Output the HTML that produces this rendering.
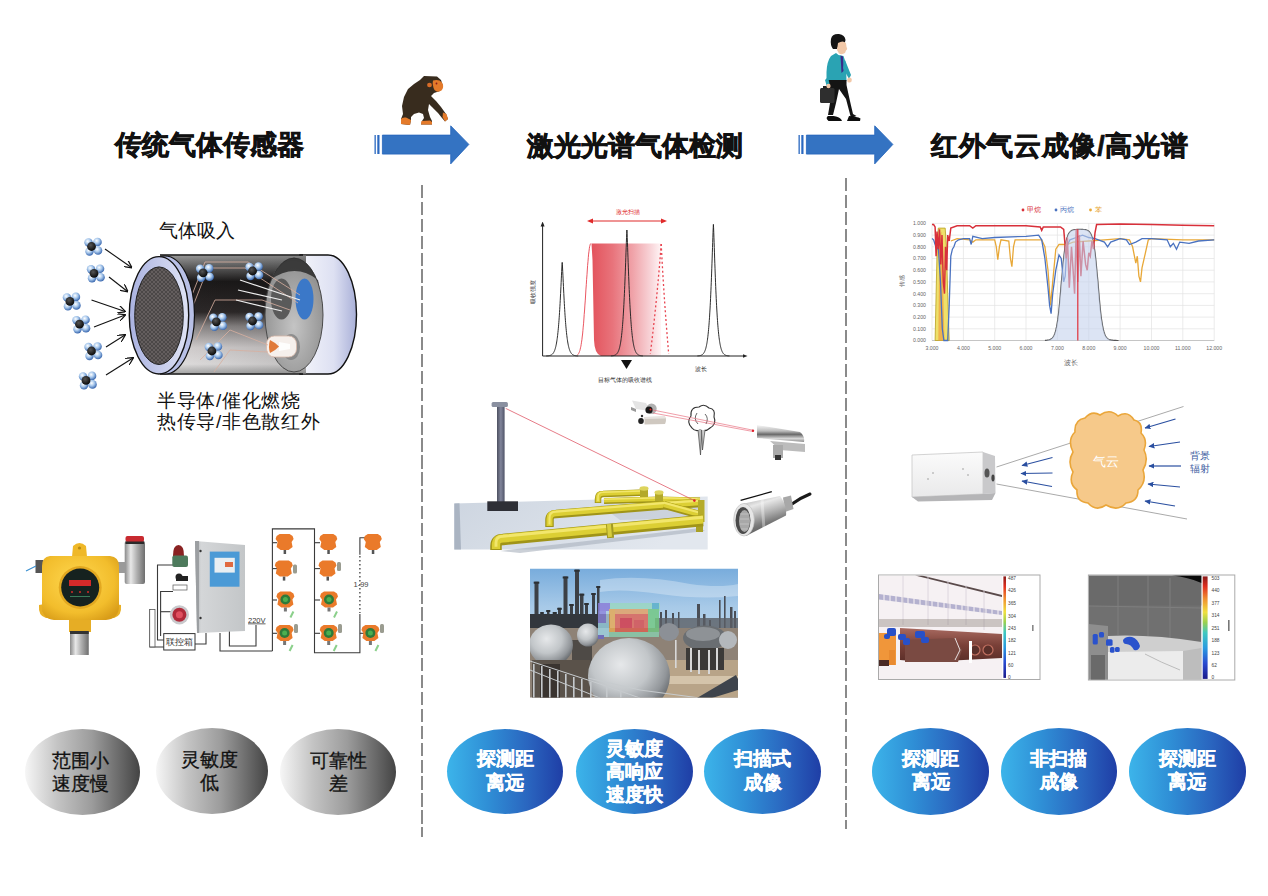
<!DOCTYPE html>
<html><head><meta charset="utf-8">
<style>
html,body{margin:0;padding:0;background:#fff;}
body{width:1268px;height:896px;position:relative;overflow:hidden;font-family:"Liberation Sans",sans-serif;}
.abs{position:absolute;}
.title{position:absolute;font-size:27px;font-weight:bold;color:#111;-webkit-text-stroke:0.7px #111;white-space:nowrap;line-height:27px;letter-spacing:0px;}
.dash{position:absolute;width:2px;background:repeating-linear-gradient(to bottom,#8a8a8a 0,#8a8a8a 13.3px,transparent 13.3px,transparent 16.9px);}
.ell{position:absolute;border-radius:50%;display:flex;align-items:center;justify-content:center;text-align:center;font-size:19px;line-height:23.3px;box-sizing:border-box;}
.g{-webkit-text-stroke:0.3px #111;background:linear-gradient(to right,#f6f6f6 0%,#c4c4c4 28%,#9c9c9c 58%,#6a6a6a 82%,#444 100%);color:#111;}
.b{padding-bottom:2px;-webkit-text-stroke:0.35px #fff;background:linear-gradient(to right,#3cb4ea 0%,#2f8fd6 35%,#2a65bf 70%,#1f3ea6 100%);color:#fff;font-weight:bold;}
</style></head>
<body>

<!-- ILLUSTRATIONS -->
<svg class="abs" style="left:0;top:0" width="1268" height="896" viewBox="0 0 1268 896">
<defs>
 <linearGradient id="interior" x1="0" y1="0" x2="0" y2="1">
  <stop offset="0" stop-color="#9a9a9a"/>
  <stop offset="0.08" stop-color="#6a6a6a"/>
  <stop offset="0.22" stop-color="#1c1a1a"/>
  <stop offset="0.48" stop-color="#2e2a2a"/>
  <stop offset="0.6" stop-color="#8a8686"/>
  <stop offset="0.78" stop-color="#d4d0d0"/>
  <stop offset="0.92" stop-color="#e2e0e0"/>
  <stop offset="1" stop-color="#a8a8a8"/>
 </linearGradient>
 <linearGradient id="interiorH" x1="0" y1="0" x2="1" y2="0">
  <stop offset="0" stop-color="#000" stop-opacity="0.0"/>
  <stop offset="1" stop-color="#000" stop-opacity="0.15"/>
 </linearGradient>
 <linearGradient id="cap" x1="0" y1="0" x2="1" y2="0">
  <stop offset="0" stop-color="#f4f5fb"/>
  <stop offset="0.6" stop-color="#dde0f2"/>
  <stop offset="1" stop-color="#a9b0d8"/>
 </linearGradient>
 <linearGradient id="ring" x1="0" y1="0" x2="1" y2="0">
  <stop offset="0" stop-color="#aab2e0"/>
  <stop offset="1" stop-color="#dfe3f5"/>
 </linearGradient>
 <radialGradient id="disc" cx="0.5" cy="0.6" r="0.6">
  <stop offset="0" stop-color="#c4c4c4"/>
  <stop offset="1" stop-color="#8e8e8e"/>
 </radialGradient>
 <pattern id="mesh" width="4" height="4" patternUnits="userSpaceOnUse">
  <rect width="4" height="4" fill="#4b4747"/>
  <path d="M0 0 L4 4 M4 0 L0 4" stroke="#6b6565" stroke-width="0.8"/>
 </pattern>
 <radialGradient id="molB" cx="0.4" cy="0.35" r="0.7">
  <stop offset="0" stop-color="#ffffff"/>
  <stop offset="0.45" stop-color="#a8c8ec"/>
  <stop offset="1" stop-color="#2a5aa6"/>
 </radialGradient>
 <radialGradient id="molK" cx="0.4" cy="0.35" r="0.7">
  <stop offset="0" stop-color="#555"/>
  <stop offset="1" stop-color="#050505"/>
 </radialGradient>
 <g id="mol">
  <circle cx="-4.5" cy="-4" r="4.2" fill="url(#molB)"/>
  <circle cx="4.5" cy="-4.5" r="4.3" fill="url(#molB)"/>
  <circle cx="5" cy="4" r="4.3" fill="url(#molB)"/>
  <circle cx="-3.5" cy="5" r="4.2" fill="url(#molB)"/>
  <circle cx="-1.5" cy="0" r="4.4" fill="url(#molK)"/>
 </g>

 <linearGradient id="steel" x1="0" y1="0" x2="1" y2="0">
  <stop offset="0" stop-color="#8a8a8a"/>
  <stop offset="0.3" stop-color="#e8e8e8"/>
  <stop offset="0.6" stop-color="#b0b0b0"/>
  <stop offset="1" stop-color="#6e6e6e"/>
 </linearGradient>
 <radialGradient id="yel" cx="0.45" cy="0.4" r="0.7">
  <stop offset="0" stop-color="#ffd850"/>
  <stop offset="0.7" stop-color="#f2bd2c"/>
  <stop offset="1" stop-color="#d89c18"/>
 </radialGradient>
 <linearGradient id="box" x1="0" y1="0" x2="1" y2="0">
  <stop offset="0" stop-color="#a9acae"/>
  <stop offset="0.12" stop-color="#d4d6d8"/>
  <stop offset="1" stop-color="#c3c6c8"/>
 </linearGradient>
 <g id="odet">
  <path d="M-8 -6 L-5 -8 L5 -8 L8 -6 L9 -3 L7 0 L8 5 L4 8 L-4 8 L-8 5 L-7 0 L-9 -3 Z" fill="#ea7a2a"/>
  <rect x="-1" y="8" width="2.5" height="4" fill="#555"/>
 </g>
 <g id="odetg">
  <path d="M-8 -6 L-5 -8 L5 -8 L8 -6 L9 -3 L7 0 L8 5 L4 8 L-4 8 L-8 5 L-7 0 L-9 -3 Z" fill="#ea7a2a"/>
  <circle cx="0" cy="0" r="5" fill="#2e7a3a"/>
  <circle cx="0" cy="0" r="2.5" fill="#4caf50"/>
  <rect x="-1.5" y="8" width="3" height="4" fill="#777"/>
  <path d="M8 12 L5 18" stroke="#8bd08b" stroke-width="2"/>
 </g>
 <g id="gsen"><rect x="0" y="-4" width="4" height="9" rx="1.5" fill="#9a9c90"/></g>

 <linearGradient id="redfill" x1="0" y1="0" x2="1" y2="0">
  <stop offset="0" stop-color="#e3535c"/>
  <stop offset="0.3" stop-color="#e8737b"/>
  <stop offset="0.6" stop-color="#f0a4aa"/>
  <stop offset="0.85" stop-color="#f8d4d8"/>
  <stop offset="1" stop-color="#fff4f5"/>
 </linearGradient>
 <marker id="ahk" viewBox="0 0 10 10" refX="5" refY="5" markerWidth="5" markerHeight="5" orient="auto">
  <path d="M0 1 L10 5 L0 9 Z" fill="#222"/>
 </marker>
 <marker id="ahr" viewBox="0 0 10 10" refX="5" refY="5" markerWidth="5" markerHeight="5" orient="auto-start-reverse">
  <path d="M0 1 L10 5 L0 9 Z" fill="#e02a2a"/>
 </marker>

 <linearGradient id="plat" x1="0" y1="0" x2="1" y2="0.3">
  <stop offset="0" stop-color="#cdd5e0"/>
  <stop offset="1" stop-color="#e2e7ee"/>
 </linearGradient>
 <linearGradient id="pipeY" x1="0" y1="0" x2="0" y2="1">
  <stop offset="0" stop-color="#f2ea80"/>
  <stop offset="0.4" stop-color="#d4ca3c"/>
  <stop offset="1" stop-color="#8f8a1e"/>
 </linearGradient>
 <linearGradient id="pole" x1="0" y1="0" x2="1" y2="0">
  <stop offset="0" stop-color="#4c5060"/>
  <stop offset="0.5" stop-color="#80849a"/>
  <stop offset="1" stop-color="#505468"/>
 </linearGradient>
 <linearGradient id="chrome" x1="0" y1="0" x2="0" y2="1">
  <stop offset="0" stop-color="#f8f8f8"/>
  <stop offset="0.35" stop-color="#bdbdbd"/>
  <stop offset="0.55" stop-color="#6a6a6a"/>
  <stop offset="0.8" stop-color="#d8d8d8"/>
  <stop offset="1" stop-color="#8a8a8a"/>
 </linearGradient>
 <linearGradient id="chromeV" x1="0" y1="0" x2="1" y2="0">
  <stop offset="0" stop-color="#e8e8e8"/>
  <stop offset="0.4" stop-color="#9a9a9a"/>
  <stop offset="0.7" stop-color="#c8c8c8"/>
  <stop offset="1" stop-color="#6a6a6a"/>
 </linearGradient>

 <linearGradient id="sky" x1="0" y1="0" x2="0" y2="1">
  <stop offset="0" stop-color="#78acdc"/>
  <stop offset="0.3" stop-color="#a8cae8"/>
  <stop offset="0.7" stop-color="#c8dcee"/>
  <stop offset="1" stop-color="#dce8f2"/>
 </linearGradient>
 <radialGradient id="sph" cx="0.4" cy="0.35" r="0.7">
  <stop offset="0" stop-color="#e6e8ea"/>
  <stop offset="0.5" stop-color="#c2c6c9"/>
  <stop offset="0.8" stop-color="#92969a"/>
  <stop offset="1" stop-color="#5e6266"/>
 </radialGradient>
 <linearGradient id="ground" x1="0" y1="0" x2="0" y2="1">
  <stop offset="0" stop-color="#b89a78"/>
  <stop offset="1" stop-color="#8a6a4a"/>
 </linearGradient>
 <clipPath id="photoClip"><rect x="530" y="568.5" width="208" height="129"/></clipPath>

 <marker id="ahb" viewBox="0 0 10 10" refX="9" refY="5" markerWidth="5" markerHeight="5" orient="auto-start-reverse">
  <path d="M10 5 L0 0.5 L0 9.5 Z" fill="#2a4fa0"/>
 </marker>
 <linearGradient id="jet" x1="0" y1="1" x2="0" y2="0">
  <stop offset="0" stop-color="#1a1a8a"/>
  <stop offset="0.15" stop-color="#2a4ad0"/>
  <stop offset="0.3" stop-color="#2a9ae0"/>
  <stop offset="0.45" stop-color="#40c8c0"/>
  <stop offset="0.55" stop-color="#9ad050"/>
  <stop offset="0.65" stop-color="#f0e040"/>
  <stop offset="0.78" stop-color="#f09030"/>
  <stop offset="0.9" stop-color="#e03020"/>
  <stop offset="1" stop-color="#8a1a1a"/>
 </linearGradient>
 <linearGradient id="camfront" x1="0" y1="0" x2="0" y2="1">
  <stop offset="0" stop-color="#fbfbfb"/>
  <stop offset="1" stop-color="#e9e9ea"/>
 </linearGradient>
 <linearGradient id="pipesR" x1="0" y1="0" x2="0" y2="1">
  <stop offset="0" stop-color="#a86a60"/>
  <stop offset="0.5" stop-color="#7a4038"/>
  <stop offset="1" stop-color="#5a2e28"/>
 </linearGradient>
 <clipPath id="th1"><rect x="879" y="575.5" width="123" height="103.5"/></clipPath>
 <clipPath id="th2"><rect x="1089" y="575.5" width="112.5" height="104"/></clipPath>
 <marker id="ah" viewBox="0 0 10 10" refX="9" refY="5" markerWidth="7" markerHeight="7" orient="auto">
  <path d="M0 0 L10 5 L0 10" fill="none" stroke="#111" stroke-width="1.6"/>
 </marker>
</defs>

<!-- ===== Sensor cylinder ===== -->
<g>
 <!-- outer shell right cap -->
 <path d="M300 255 L328 255 A28.5 59.5 0 0 1 328 374 L300 374 Z" fill="url(#cap)" stroke="#111" stroke-width="1.4"/>
 <!-- interior cutaway -->
 <rect x="160" y="255.5" width="146" height="118" fill="url(#interior)"/>
 <rect x="160" y="255.5" width="146" height="118" fill="url(#interiorH)"/>
 <line x1="160" y1="255" x2="303" y2="255" stroke="#111" stroke-width="1.4"/>
 <line x1="160" y1="374" x2="303" y2="374" stroke="#111" stroke-width="1.4"/>
 <!-- inner end disc -->
 <ellipse cx="294" cy="315" rx="29" ry="57" fill="url(#disc)" stroke="#4a4a4a" stroke-width="1"/>
 <path d="M266 300 A29 57 0 0 1 322 300 L318 280 Q295 262 270 280 Z" fill="#2c2c2c" opacity="0.85"/>
 <ellipse cx="281.5" cy="299" rx="10.5" ry="20.5" fill="#5a5a5a"/>
 <ellipse cx="304.5" cy="299" rx="9" ry="20.5" fill="#3b78c8"/>
 <ellipse cx="291" cy="347" rx="9" ry="13" fill="#7a7a7a" opacity="0.7"/>
 <rect x="266.5" y="336" width="30" height="21" rx="8" fill="#f6f0ec" stroke="#d8b8a8" stroke-width="0.8"/>
 <path d="M270 340 Q276 343 279 346.5 Q276 350 270 353 Q268 346.5 270 340 Z" fill="#e07a3a"/>
 <path d="M279 342 L290 344 L290 349 L279 351 Z" fill="#fff" opacity="0.9"/>
 <!-- wires -->
 <g stroke="#d8b0a0" stroke-width="0.9" fill="none" opacity="0.9">
  <path d="M190 300 L205 262 L248 262 L300 295"/>
  <path d="M193 306 L208 268 L245 268 L298 303"/>
  <path d="M196 340 L215 300 L262 300 L290 310"/>
  <path d="M200 360 L230 330 L268 345"/>
  <path d="M214 372 L230 350 L268 352"/>
 </g>
 <g stroke="#eee" stroke-width="1.2">
  <line x1="240" y1="280" x2="300" y2="300"/>
  <line x1="238" y1="290" x2="282" y2="300"/>
  <line x1="236" y1="300" x2="282" y2="311"/>
 </g>
 <!-- front ring -->
 <ellipse cx="165" cy="315" rx="29.5" ry="59" fill="#b8c0e6" stroke="#111" stroke-width="1.2"/>
 <ellipse cx="159" cy="315.3" rx="29.7" ry="58.7" fill="url(#ring)" stroke="#111" stroke-width="1.4"/>
 <ellipse cx="159" cy="315.7" rx="24.3" ry="48.8" fill="url(#mesh)" stroke="#222" stroke-width="1"/>
 <!-- molecules inside -->
 <use href="#mol" x="204.6" y="272.8"/>
 <use href="#mol" x="254" y="271"/>
 <use href="#mol" x="217.8" y="321.8"/>
 <use href="#mol" x="254" y="321"/>
 <use href="#mol" x="213.4" y="351"/>
 <!-- molecules outside -->
 <use href="#mol" x="93" y="246.5"/>
 <use href="#mol" x="95.5" y="273.3"/>
 <use href="#mol" x="71.4" y="301.4"/>
 <use href="#mol" x="81" y="324.2"/>
 <use href="#mol" x="93" y="351"/>
 <use href="#mol" x="87.5" y="380.4"/>
 <!-- arrows -->
 <g stroke="#111" stroke-width="1.1" marker-end="url(#ah)">
  <line x1="105" y1="249" x2="131.5" y2="267.5"/>
  <line x1="109" y1="277" x2="127.5" y2="291.5"/>
  <line x1="91.5" y1="300" x2="125" y2="311.5"/>
  <line x1="94" y1="327" x2="125" y2="315"/>
  <line x1="106" y1="347" x2="125" y2="335"/>
  <line x1="106" y1="375" x2="133" y2="358"/>
 </g>
</g>

<!-- ===== Gas detector devices ===== -->
<g>
 <!-- right stainless cylinder -->
 <rect x="124.7" y="541" width="20.3" height="43" rx="2" fill="url(#steel)"/>
 <rect x="125.5" y="536" width="18.5" height="6" rx="2" fill="#c82a30"/>
 <rect x="125.5" y="541.5" width="18.5" height="2.5" fill="#2a2a2a"/>
 <rect x="118" y="562" width="8" height="11" fill="#9a9a9a"/>
 <!-- left nub + cable -->
 <rect x="35.5" y="560" width="8" height="13" fill="#555"/>
 <path d="M36 566 L26 571" stroke="#3a8fd0" stroke-width="1.2"/>
 <!-- yellow body -->
 <rect x="69" y="616" width="22" height="16" fill="#e6ad25"/>
 <path d="M72 557 L73 546 Q79.5 540 86 546 L87 557 Z" fill="#efb828"/>
 <circle cx="79.5" cy="548" r="1.6" fill="#b88a10"/>
 <path d="M39 605 Q38 616 46 618 L56 618 L56 602 Z" fill="#e9b026"/>
 <path d="M121 605 Q122 616 114 618 L104 618 L104 602 Z" fill="#e9b026"/>
 <circle cx="44.5" cy="611" r="1.8" fill="#b88a10"/>
 <circle cx="115.5" cy="611" r="1.8" fill="#b88a10"/>
 <path d="M50 556 L110 556 Q119 557 119 566 L119 606 Q119 619 106 620 L54 620 Q42 619 42 606 L42 566 Q42 557 50 556 Z" fill="url(#yel)"/>
 <circle cx="80.2" cy="587.5" r="21.5" fill="#e2a820"/>
 <circle cx="80.2" cy="587.5" r="19" fill="#16221f"/>
 <rect x="69" y="580" width="22" height="6" fill="#d42a2a"/>
 <g fill="#d42a2a"><circle cx="72" cy="592" r="1"/><circle cx="80" cy="592" r="1"/><circle cx="88" cy="592" r="1"/></g>
 <rect x="70" y="596" width="20" height="1" fill="#3a7a5a"/>
 <!-- bottom sensor -->
 <rect x="70" y="631" width="18.75" height="24" fill="url(#steel)"/>
 <rect x="70" y="631" width="18.75" height="3" fill="#333"/>
</g>
<g>
 <!-- wires -->
 <g stroke="#3a3a3a" stroke-width="1.1" fill="none">
  <path d="M175 565 L157.5 565 L157.5 640 L164 640"/>
  <path d="M173 591.5 L160.6 591.5 L160.6 636"/>
  <path d="M170.8 611.7 L160.6 611.7"/>
  <path d="M150 609 L150 647 L164 647"/>
  <path d="M195 644 L206 644 L206 633"/>
  <path d="M220 633 L220 651 L272.4 651"/>
  <path d="M229.4 631 L229.4 646 L256 646 L256 625"/>
  <path d="M272.4 651 L272.4 528.9 L314.5 528.9 L314.5 652.8 L359.9 652.8 L359.9 614"/>
  <path d="M359.9 554.8 L359.9 537.8 L366 537.8"/>
 </g>
 <path d="M359.9 556 L359.9 613" stroke="#3a3a3a" stroke-width="1.3" stroke-dasharray="1.4 2.6"/>
 <g stroke="#3a3a3a" stroke-width="1.1">
  <line x1="272.4" y1="542.7" x2="277" y2="542.7"/><line x1="272.4" y1="568.6" x2="277" y2="568.6"/>
  <line x1="272.4" y1="600" x2="277" y2="600"/><line x1="272.4" y1="633.3" x2="277" y2="633.3"/>
  <line x1="314.5" y1="542.7" x2="320" y2="542.7"/><line x1="314.5" y1="568.6" x2="320" y2="568.6"/>
  <line x1="314.5" y1="600" x2="320" y2="600"/><line x1="314.5" y1="633.3" x2="320" y2="633.3"/>
  <line x1="359.9" y1="633.3" x2="364" y2="633.3"/>
 </g>
 <!-- strip -->
 <rect x="149.7" y="609.4" width="5.3" height="37.5" fill="#fff" stroke="#555" stroke-width="0.8"/>
 <!-- alarm light -->
 <path d="M173 556 Q173 545 178.5 545 Q184 545 184 556 Z" fill="#8a2222"/>
 <rect x="172.3" y="555.5" width="15.7" height="11.5" rx="2" fill="#4d7a5c"/>
 <!-- valve -->
 <path d="M176 576 L188 576 L188 581 L176 581 Z" fill="#222"/><circle cx="179" cy="577" r="3.5" fill="#222"/>
 <rect x="173" y="585" width="14" height="5" fill="none" stroke="#555" stroke-width="0.7"/>
 <!-- fan -->
 <circle cx="179.4" cy="614.8" r="9.6" fill="#c9c9cc"/>
 <circle cx="179.4" cy="614.8" r="7" fill="#b02a3a"/>
 <circle cx="179.4" cy="614.8" r="3.5" fill="#e05060"/>
 <!-- controller box -->
 <path d="M195 541 L245 545 L245 631 L197 633 Z" fill="url(#box)"/>
 <path d="M195 541 L199 541 L199 633 L197 633 Z" fill="#9c9fa2"/>
 <rect x="209.8" y="551.6" width="29.7" height="35.1" fill="#4b9ad6"/>
 <rect x="214.5" y="557.8" width="20.3" height="14.8" fill="#e8eef2"/>
 <rect x="225" y="562" width="8" height="5" fill="#e06a40"/>
 <circle cx="200.5" cy="551" r="1.2" fill="#333"/><circle cx="200.5" cy="618" r="1.2" fill="#333"/>
 <!-- linkage box -->
 <rect x="163.75" y="633.6" width="31.25" height="16.4" fill="#fff" stroke="#333" stroke-width="1"/>
 <text x="179.4" y="645" font-size="9" text-anchor="middle" fill="#333">联控箱</text>
 <text x="248" y="622.5" font-size="7.5" fill="#333" text-decoration="underline">220V</text>
 <text x="353.5" y="587.3" font-size="7.5" fill="#444">1-99</text>
 <!-- detectors -->
 <use href="#odet" x="284.6" y="542"/><use href="#odet" x="328.3" y="542"/><use href="#odet" x="372.8" y="542"/>
 <use href="#odet" x="283.8" y="568.6"/><use href="#gsen" x="293" y="568.6"/>
 <use href="#odet" x="327.5" y="568.6"/><use href="#gsen" x="337" y="566"/>
 <use href="#odetg" x="285.4" y="599.5"/><use href="#odetg" x="329" y="599.5"/>
 <use href="#odetg" x="284.6" y="633"/><use href="#gsen" x="294" y="628"/>
 <use href="#odetg" x="328.7" y="633"/><use href="#gsen" x="338" y="628"/>
 <use href="#odetg" x="370.4" y="633"/><use href="#gsen" x="380" y="628"/>
</g>

<!-- ===== Laser spectrum chart ===== -->
<g>
 <path d="M591.5,243.5 L661,243.5 L661,356 L601,356 Q594.5,354 594,340 L592.5,260 Z" fill="url(#redfill)"/>
 <path d="M577.5,354.9 L577.8,354.5 L578.2,354.1 L578.5,353.7 L578.9,353.1 L579.2,352.3 L579.5,351.5 L579.9,350.5 L580.2,349.2 L580.5,347.8 L580.9,346.2 L581.2,344.3 L581.5,342.2 L581.9,339.8 L582.2,337.0 L582.6,334.0 L582.9,330.7 L583.2,327.1 L583.6,323.2 L583.9,319.0 L584.2,314.6 L584.6,310.0 L584.9,305.1 L585.3,300.1 L585.6,295.0 L585.9,289.9 L586.3,284.7 L586.6,279.6 L587.0,274.7 L587.3,270.0 L587.6,265.5 L588.0,261.3 L588.3,257.5 L588.6,254.1 L589.0,251.2 L589.3,248.7 L589.6,246.7 L590.0,245.2 L590.3,244.2 L590.7,243.7 L591.0,243.5" fill="none" stroke="#e8434f" stroke-width="0.9"/>
 <path d="M661.2,244 Q657,300 650.3,354" fill="none" stroke="#e84450" stroke-width="1.3" stroke-dasharray="2 2.4"/>
 <path d="M661.2,244 Q664,300 668.7,354" fill="none" stroke="#e84450" stroke-width="1.3" stroke-dasharray="2 2.4"/>
 <path d="M546.20,355.93 L546.38,355.92 L546.56,355.91 L546.73,355.91 L546.91,355.90 L547.09,355.88 L547.27,355.87 L547.44,355.86 L547.62,355.85 L547.80,355.83 L547.98,355.81 L548.16,355.79 L548.33,355.77 L548.51,355.75 L548.69,355.72 L548.87,355.70 L549.04,355.67 L549.22,355.63 L549.40,355.60 L549.58,355.56 L549.76,355.51 L549.93,355.46 L550.11,355.41 L550.29,355.35 L550.47,355.29 L550.64,355.22 L550.82,355.15 L551.00,355.07 L551.18,354.98 L551.36,354.88 L551.53,354.77 L551.71,354.66 L551.89,354.53 L552.07,354.39 L552.24,354.24 L552.42,354.08 L552.60,353.90 L552.78,353.71 L552.96,353.50 L553.13,353.28 L553.31,353.03 L553.49,352.76 L553.67,352.47 L553.84,352.16 L554.02,351.82 L554.20,351.45 L554.38,351.06 L554.56,350.63 L554.73,350.16 L554.91,349.66 L555.09,349.12 L555.27,348.54 L555.44,347.91 L555.62,347.24 L555.80,346.51 L555.98,345.73 L556.16,344.89 L556.33,343.98 L556.51,343.02 L556.69,341.98 L556.87,340.87 L557.04,339.68 L557.22,338.41 L557.40,337.05 L557.58,335.61 L557.76,334.06 L557.93,332.42 L558.11,330.68 L558.29,328.82 L558.47,326.86 L558.64,324.77 L558.82,322.57 L559.00,320.24 L559.18,317.79 L559.36,315.21 L559.53,312.50 L559.71,309.65 L559.89,306.68 L560.07,303.58 L560.24,300.35 L560.42,297.00 L560.60,293.54 L560.78,289.99 L560.96,286.35 L561.13,282.65 L561.31,278.91 L561.49,275.18 L561.67,271.52 L561.84,268.00 L562.02,264.80 L562.20,262.40 L562.38,264.80 L562.56,268.00 L562.73,271.52 L562.91,275.18 L563.09,278.91 L563.27,282.65 L563.44,286.35 L563.62,289.99 L563.80,293.54 L563.98,297.00 L564.16,300.35 L564.33,303.58 L564.51,306.68 L564.69,309.65 L564.87,312.50 L565.04,315.21 L565.22,317.79 L565.40,320.24 L565.58,322.57 L565.76,324.77 L565.93,326.86 L566.11,328.82 L566.29,330.68 L566.47,332.42 L566.64,334.06 L566.82,335.61 L567.00,337.05 L567.18,338.41 L567.36,339.68 L567.53,340.87 L567.71,341.98 L567.89,343.02 L568.07,343.98 L568.24,344.89 L568.42,345.73 L568.60,346.51 L568.78,347.24 L568.96,347.91 L569.13,348.54 L569.31,349.12 L569.49,349.66 L569.67,350.16 L569.84,350.63 L570.02,351.06 L570.20,351.45 L570.38,351.82 L570.56,352.16 L570.73,352.47 L570.91,352.76 L571.09,353.03 L571.27,353.28 L571.44,353.50 L571.62,353.71 L571.80,353.90 L571.98,354.08 L572.16,354.24 L572.33,354.39 L572.51,354.53 L572.69,354.66 L572.87,354.77 L573.04,354.88 L573.22,354.98 L573.40,355.07 L573.58,355.15 L573.76,355.22 L573.93,355.29 L574.11,355.35 L574.29,355.41 L574.47,355.46 L574.64,355.51 L574.82,355.56 L575.00,355.60 L575.18,355.63 L575.36,355.67 L575.53,355.70 L575.71,355.72 L575.89,355.75 L576.07,355.77 L576.24,355.79 L576.42,355.81 L576.60,355.83 L576.78,355.85 L576.96,355.86 L577.13,355.87 L577.31,355.88 L577.49,355.90 L577.67,355.91 L577.84,355.91 L578.02,355.92 L578.20,355.93" fill="none" stroke="#222" stroke-width="0.95"/>
 <path d="M610.90,355.91 L611.08,355.90 L611.26,355.88 L611.43,355.87 L611.61,355.86 L611.79,355.84 L611.97,355.83 L612.14,355.81 L612.32,355.79 L612.50,355.77 L612.68,355.75 L612.86,355.72 L613.03,355.69 L613.21,355.66 L613.39,355.63 L613.57,355.59 L613.74,355.55 L613.92,355.50 L614.10,355.46 L614.28,355.40 L614.46,355.34 L614.63,355.28 L614.81,355.21 L614.99,355.13 L615.17,355.05 L615.34,354.95 L615.52,354.85 L615.70,354.74 L615.88,354.62 L616.06,354.49 L616.23,354.35 L616.41,354.19 L616.59,354.02 L616.77,353.84 L616.94,353.64 L617.12,353.42 L617.30,353.18 L617.48,352.92 L617.66,352.64 L617.83,352.33 L618.01,352.00 L618.19,351.64 L618.37,351.25 L618.54,350.83 L618.72,350.38 L618.90,349.88 L619.08,349.35 L619.26,348.77 L619.43,348.14 L619.61,347.47 L619.79,346.74 L619.97,345.96 L620.14,345.11 L620.32,344.20 L620.50,343.22 L620.68,342.17 L620.86,341.04 L621.03,339.82 L621.21,338.52 L621.39,337.13 L621.57,335.63 L621.74,334.03 L621.92,332.32 L622.10,330.49 L622.28,328.55 L622.46,326.47 L622.63,324.26 L622.81,321.91 L622.99,319.41 L623.17,316.77 L623.34,313.96 L623.52,311.00 L623.70,307.86 L623.88,304.56 L624.06,301.09 L624.23,297.44 L624.41,293.61 L624.59,289.61 L624.77,285.43 L624.94,281.09 L625.12,276.58 L625.30,271.93 L625.48,267.14 L625.66,262.24 L625.83,257.25 L626.01,252.22 L626.19,247.21 L626.37,242.27 L626.54,237.54 L626.72,233.23 L626.90,230.00 L627.08,233.23 L627.26,237.54 L627.43,242.27 L627.61,247.21 L627.79,252.22 L627.97,257.25 L628.14,262.24 L628.32,267.14 L628.50,271.93 L628.68,276.58 L628.86,281.09 L629.03,285.43 L629.21,289.61 L629.39,293.61 L629.57,297.44 L629.74,301.09 L629.92,304.56 L630.10,307.86 L630.28,311.00 L630.46,313.96 L630.63,316.77 L630.81,319.41 L630.99,321.91 L631.17,324.26 L631.34,326.47 L631.52,328.55 L631.70,330.49 L631.88,332.32 L632.06,334.03 L632.23,335.63 L632.41,337.13 L632.59,338.52 L632.77,339.82 L632.94,341.04 L633.12,342.17 L633.30,343.22 L633.48,344.20 L633.66,345.11 L633.83,345.96 L634.01,346.74 L634.19,347.47 L634.37,348.14 L634.54,348.77 L634.72,349.35 L634.90,349.88 L635.08,350.38 L635.26,350.83 L635.43,351.25 L635.61,351.64 L635.79,352.00 L635.97,352.33 L636.14,352.64 L636.32,352.92 L636.50,353.18 L636.68,353.42 L636.86,353.64 L637.03,353.84 L637.21,354.02 L637.39,354.19 L637.57,354.35 L637.74,354.49 L637.92,354.62 L638.10,354.74 L638.28,354.85 L638.46,354.95 L638.63,355.05 L638.81,355.13 L638.99,355.21 L639.17,355.28 L639.34,355.34 L639.52,355.40 L639.70,355.46 L639.88,355.50 L640.06,355.55 L640.23,355.59 L640.41,355.63 L640.59,355.66 L640.77,355.69 L640.94,355.72 L641.12,355.75 L641.30,355.77 L641.48,355.79 L641.66,355.81 L641.83,355.83 L642.01,355.84 L642.19,355.86 L642.37,355.87 L642.54,355.88 L642.72,355.90 L642.90,355.91" fill="none" stroke="#222" stroke-width="0.95"/>
 <path d="M697.40,355.90 L697.58,355.89 L697.76,355.88 L697.93,355.87 L698.11,355.85 L698.29,355.84 L698.47,355.82 L698.64,355.80 L698.82,355.78 L699.00,355.76 L699.18,355.74 L699.36,355.71 L699.53,355.68 L699.71,355.65 L699.89,355.61 L700.07,355.57 L700.24,355.53 L700.42,355.48 L700.60,355.43 L700.78,355.37 L700.96,355.31 L701.13,355.25 L701.31,355.17 L701.49,355.09 L701.67,355.00 L701.84,354.91 L702.02,354.80 L702.20,354.69 L702.38,354.56 L702.56,354.42 L702.73,354.27 L702.91,354.11 L703.09,353.93 L703.27,353.74 L703.44,353.53 L703.62,353.30 L703.80,353.05 L703.98,352.78 L704.16,352.49 L704.33,352.17 L704.51,351.83 L704.69,351.45 L704.87,351.04 L705.04,350.60 L705.22,350.13 L705.40,349.61 L705.58,349.05 L705.76,348.45 L705.93,347.79 L706.11,347.09 L706.29,346.33 L706.47,345.51 L706.64,344.63 L706.82,343.68 L707.00,342.66 L707.18,341.56 L707.36,340.37 L707.53,339.11 L707.71,337.75 L707.89,336.29 L708.07,334.73 L708.24,333.05 L708.42,331.27 L708.60,329.36 L708.78,327.33 L708.96,325.16 L709.13,322.85 L709.31,320.39 L709.49,317.79 L709.67,315.02 L709.84,312.09 L710.02,309.00 L710.20,305.73 L710.38,302.28 L710.56,298.65 L710.73,294.83 L710.91,290.84 L711.09,286.65 L711.27,282.29 L711.44,277.76 L711.62,273.05 L711.80,268.19 L711.98,263.19 L712.16,258.07 L712.33,252.86 L712.51,247.61 L712.69,242.37 L712.87,237.22 L713.04,232.28 L713.22,227.77 L713.40,224.40 L713.58,227.77 L713.76,232.28 L713.93,237.22 L714.11,242.37 L714.29,247.61 L714.47,252.86 L714.64,258.07 L714.82,263.19 L715.00,268.19 L715.18,273.05 L715.36,277.76 L715.53,282.29 L715.71,286.65 L715.89,290.84 L716.07,294.83 L716.24,298.65 L716.42,302.28 L716.60,305.73 L716.78,309.00 L716.96,312.09 L717.13,315.02 L717.31,317.79 L717.49,320.39 L717.67,322.85 L717.84,325.16 L718.02,327.33 L718.20,329.36 L718.38,331.27 L718.56,333.05 L718.73,334.73 L718.91,336.29 L719.09,337.75 L719.27,339.11 L719.44,340.37 L719.62,341.56 L719.80,342.66 L719.98,343.68 L720.16,344.63 L720.33,345.51 L720.51,346.33 L720.69,347.09 L720.87,347.79 L721.04,348.45 L721.22,349.05 L721.40,349.61 L721.58,350.13 L721.76,350.60 L721.93,351.04 L722.11,351.45 L722.29,351.83 L722.47,352.17 L722.64,352.49 L722.82,352.78 L723.00,353.05 L723.18,353.30 L723.36,353.53 L723.53,353.74 L723.71,353.93 L723.89,354.11 L724.07,354.27 L724.24,354.42 L724.42,354.56 L724.60,354.69 L724.78,354.80 L724.96,354.91 L725.13,355.00 L725.31,355.09 L725.49,355.17 L725.67,355.25 L725.84,355.31 L726.02,355.37 L726.20,355.43 L726.38,355.48 L726.56,355.53 L726.73,355.57 L726.91,355.61 L727.09,355.65 L727.27,355.68 L727.44,355.71 L727.62,355.74 L727.80,355.76 L727.98,355.78 L728.16,355.80 L728.33,355.82 L728.51,355.84 L728.69,355.85 L728.87,355.87 L729.04,355.88 L729.22,355.89 L729.40,355.90" fill="none" stroke="#222" stroke-width="0.95"/>
 <line x1="542.6" y1="356" x2="542.6" y2="224" stroke="#222" stroke-width="1" marker-end="url(#ahk)"/>
 <line x1="542.6" y1="356" x2="745" y2="356" stroke="#222" stroke-width="1" marker-end="url(#ahk)"/>
 <line x1="590" y1="221" x2="664" y2="221" stroke="#e02a2a" stroke-width="1.2" marker-start="url(#ahr)" marker-end="url(#ahr)"/>
 <path d="M621 360 L632 360 L626.5 369 Z" fill="#111"/>
 <text x="627.5" y="214" font-size="6.2" text-anchor="middle" fill="#e02a2a">激光扫描</text>
 <text x="625" y="381.5" font-size="6" text-anchor="middle" fill="#333">目标气体的吸收谱线</text>
 <text x="701" y="370.5" font-size="6" text-anchor="middle" fill="#333">波长</text>
 <text x="0" y="0" font-size="6" fill="#333" transform="translate(534.5,292) rotate(-90)" text-anchor="middle">吸收强度</text>
</g>

<!-- ===== Pipeline scene ===== -->
<g>
 <path d="M454.3 503.4 L707.7 496.5 L707.7 549.5 L454.3 549.5 Z" fill="url(#plat)"/>
 <path d="M454.3 503.4 L459.5 503.3 L461 549.5 L454.3 549.5 Z" fill="#aab4c2"/>
 <path d="M600 505 L700 502 L700 518 L620 520 Z" fill="#b8c0cc" opacity="0.5"/>
 <path d="M500 551 L700 528 L705 531 L520 553 Z" fill="#a8b0bc" opacity="0.6"/>
 <!-- back pipes -->
 <path d="M598 503 L598 499 Q598 494 603 494 L648 492.5" fill="none" stroke="#a09418" stroke-width="6.5" stroke-linejoin="round" stroke-linecap="butt"/><path d="M598 503 L598 499 Q598 494 603 494 L648 492.5" fill="none" stroke="#dccf34" stroke-width="4.7" stroke-linejoin="round" transform="translate(0,-0.7)"/><path d="M598 503 L598 499 Q598 494 603 494 L648 492.5" fill="none" stroke="#f2e66c" stroke-width="1.6" stroke-linejoin="round" transform="translate(0,-1.8)"/>
 <path d="M604 501 L660 499.5 L700 500.5" fill="none" stroke="#a09418" stroke-width="6" stroke-linejoin="round" stroke-linecap="butt"/><path d="M604 501 L660 499.5 L700 500.5" fill="none" stroke="#dccf34" stroke-width="4.3" stroke-linejoin="round" transform="translate(0,-0.6)"/><path d="M604 501 L660 499.5 L700 500.5" fill="none" stroke="#f2e66c" stroke-width="1.5" stroke-linejoin="round" transform="translate(0,-1.7)"/>
 <rect x="640" y="488" width="8" height="9" fill="#b3a92a"/><ellipse cx="644" cy="488.5" rx="4.5" ry="2.2" fill="#ddd45c"/>
 <rect x="655" y="492" width="8" height="9" fill="#b3a92a"/><ellipse cx="659" cy="492.5" rx="4.5" ry="2.2" fill="#ddd45c"/>
 <!-- middle pipe -->
 <path d="M549.5 527 L549.5 520 Q549.5 514 556 514 L663 505.5 L700 503" fill="none" stroke="#a09418" stroke-width="8.5" stroke-linejoin="round" stroke-linecap="butt"/><path d="M549.5 527 L549.5 520 Q549.5 514 556 514 L663 505.5 L700 503" fill="none" stroke="#dccf34" stroke-width="6.1" stroke-linejoin="round" transform="translate(0,-0.9)"/><path d="M549.5 527 L549.5 520 Q549.5 514 556 514 L663 505.5 L700 503" fill="none" stroke="#f2e66c" stroke-width="2.1" stroke-linejoin="round" transform="translate(0,-2.4)"/>
 <!-- diagonal -->
 <path d="M664 505 L700 515" fill="none" stroke="#a09418" stroke-width="8" stroke-linejoin="round" stroke-linecap="butt"/><path d="M664 505 L700 515" fill="none" stroke="#dccf34" stroke-width="5.8" stroke-linejoin="round" transform="translate(0,-0.8)"/><path d="M664 505 L700 515" fill="none" stroke="#f2e66c" stroke-width="2.0" stroke-linejoin="round" transform="translate(0,-2.2)"/>
 <!-- right vertical elbows -->
 <rect x="698" y="500" width="6.5" height="22" fill="#b5ab2a"/>
 <rect x="696" y="520" width="7" height="12" fill="#a9a026"/>
 <!-- front pipe -->
 <path d="M496 550 L496 546 Q496 539.5 503 539.5 L703 520.5" fill="none" stroke="#a09418" stroke-width="11.5" stroke-linejoin="round" stroke-linecap="butt"/><path d="M496 550 L496 546 Q496 539.5 503 539.5 L703 520.5" fill="none" stroke="#dccf34" stroke-width="8.3" stroke-linejoin="round" transform="translate(0,-1.1)"/><path d="M496 550 L496 546 Q496 539.5 503 539.5 L703 520.5" fill="none" stroke="#f2e66c" stroke-width="2.9" stroke-linejoin="round" transform="translate(0,-3.2)"/>
 <rect x="606.5" y="524" width="7" height="14" fill="#a29a22" transform="rotate(-5 610 531)"/>
 <rect x="607.5" y="524" width="4" height="13" fill="#d8ce3e" transform="rotate(-5 610 531)"/>
 <!-- pole -->
 <rect x="497" y="405" width="7.6" height="98" fill="url(#pole)"/>
 <rect x="491.6" y="402" width="16.3" height="5" rx="1.5" fill="#8a90a0"/>
 <path d="M487.3 501.3 L518 501.3 L518 511 L487.3 511 Z" fill="#2e2f36"/>
 <!-- laser -->
 <line x1="505.7" y1="408.4" x2="694.4" y2="500.6" stroke="#e05a6a" stroke-width="0.8"/>
 <circle cx="694.4" cy="500.6" r="1.3" fill="#e0202a"/>
</g>
<!-- ===== Open path cameras ===== -->
<g>
 <path d="M632 400.5 L646 403 L650 411 L636 409 Z" fill="#e4e4e4"/>
 <path d="M631 407 L636 409 L636 412 L631 410 Z" fill="#999"/>
 <ellipse cx="651.5" cy="408.8" rx="5.2" ry="5.3" fill="#b0b0b0"/>
 <circle cx="649" cy="410" r="3.6" fill="#1a1a1a"/>
 <circle cx="650.5" cy="409.5" r="1" fill="#e02020"/>
 <path d="M644.5 417 L665 416.5 Q667 420 665 424 L644.5 424.5 Z" fill="#cfc8c0"/>
 <path d="M644.5 417 L665 416.5 L665 418.5 L644.5 419 Z" fill="#e8e4e0"/>
 <ellipse cx="641" cy="421" rx="2.8" ry="3" fill="#222"/>
 <circle cx="642" cy="416" r="1.2" fill="#333"/>

 <!-- cloud -->
 <path d="M692 428 Q686 422 691 416 Q690 407 699 407 Q704 403 709 408 Q716 409 714 417 Q717 424 710 428 Q706 432 700 430 Q695 432 692 428 Z" fill="#fff" stroke="#333" stroke-width="1.1"/>
 <path d="M697 413 Q693 419 698 424 M705 414 Q709 418 706 424" stroke="#555" stroke-width="0.9" fill="none"/>
 <path d="M698 430 L700.5 455 L702 430" fill="#bbb" stroke="#444" stroke-width="0.7"/>
 <path d="M701.5 430 L702.5 450 L705 430" fill="#ccc" stroke="#444" stroke-width="0.7"/>
 <line x1="653" y1="410" x2="753" y2="430.2" stroke="#e87080" stroke-width="0.8" opacity="0.85"/>
 <line x1="653" y1="413" x2="753" y2="431.5" stroke="#e87080" stroke-width="0.8" opacity="0.85"/>
 <circle cx="753" cy="430.7" r="1.2" fill="#e0202a"/>
 <!-- right housing -->
 <path d="M757 425 L800 432 Q805 436 804 442 L757 438 Z" fill="url(#chrome)"/>
 <path d="M770 441 L805 444 L805 452 L780 450 Z" fill="#bcbcbc"/>
 <rect x="773" y="445" width="10" height="13" fill="#aaa"/>
 <rect x="775" y="455" width="6" height="5" fill="#333"/>
 <!-- cylindrical sensor -->
 <path d="M792 504 Q800 498 810 494" stroke="#1a1a1a" stroke-width="3" fill="none" stroke-linecap="round"/>
 <path d="M783 497.5 L791 495.5 L793.5 509 L785 512 Z" fill="#a8a8a8"/>
 <linearGradient id="cylG" gradientUnits="userSpaceOnUse" x1="758" y1="499" x2="768" y2="531">
  <stop offset="0" stop-color="#c8c8c8"/>
  <stop offset="0.15" stop-color="#e8e8e8"/>
  <stop offset="0.45" stop-color="#b4b4b4"/>
  <stop offset="0.75" stop-color="#7a7a7a"/>
  <stop offset="1" stop-color="#5a5a5a"/>
 </linearGradient>
 <path d="M744 503.4 L780 496 Q787 505 786 515.5 L746 536 Z" fill="url(#cylG)"/>
 <path d="M762 499 L764 530" stroke="#fff" stroke-width="3" opacity="0.35"/>
 <ellipse cx="744" cy="519.7" rx="10.3" ry="16.3" fill="#e6e6e6" stroke="#bbb" stroke-width="0.6"/>
 <ellipse cx="743" cy="520.5" rx="7.5" ry="13.5" fill="#4a4a4a"/>
 <ellipse cx="744.5" cy="521" rx="5.5" ry="11" fill="#a8a8a8"/>
 <g stroke="#d0d0d0" stroke-width="0.6"><line x1="740" y1="514" x2="749" y2="514"/><line x1="740" y1="519" x2="749" y2="519"/><line x1="740" y1="524" x2="749" y2="524"/><line x1="741" y1="529" x2="748" y2="529"/></g>
 <line x1="740.6" y1="500.3" x2="771.8" y2="491.7" stroke="#111" stroke-width="1.3"/>
</g>

<!-- ===== Refinery photo ===== -->
<g clip-path="url(#photoClip)">
 <rect x="530" y="568.5" width="208" height="129" fill="url(#sky)"/>
 <path d="M600 580 Q640 574 690 584 Q720 588 738 584 L738 596 Q700 600 660 594 Q620 588 600 592 Z" fill="#fff" opacity="0.3"/>
 <rect x="534.5" y="581.7" width="4" height="50.299999999999955" fill="#3c4046"/><rect x="533.7" y="581.7" width="5.6" height="2" fill="#2c3034"/><rect x="558" y="607.8" width="3" height="24.200000000000045" fill="#3c4046"/><rect x="557.2" y="607.8" width="4.6" height="2" fill="#2c3034"/><rect x="553.5" y="612" width="2.5" height="20" fill="#3c4046"/><rect x="552.7" y="612" width="4.1" height="2" fill="#2c3034"/><rect x="563.5" y="576.5" width="4" height="55.5" fill="#3c4046"/><rect x="562.7" y="576.5" width="5.6" height="2" fill="#2c3034"/><rect x="570" y="604" width="3" height="28" fill="#3c4046"/><rect x="569.2" y="604" width="4.6" height="2" fill="#2c3034"/><rect x="575" y="569.7" width="4" height="62.299999999999955" fill="#3c4046"/><rect x="574.2" y="569.7" width="5.6" height="2" fill="#2c3034"/><rect x="580" y="593.7" width="3.5" height="38.299999999999955" fill="#3c4046"/><rect x="579.2" y="593.7" width="5.1" height="2" fill="#2c3034"/><rect x="585" y="603" width="3" height="29" fill="#3c4046"/><rect x="584.2" y="603" width="4.6" height="2" fill="#2c3034"/><rect x="592" y="593" width="3" height="39" fill="#3c4046"/><rect x="591.2" y="593" width="4.6" height="2" fill="#2c3034"/><rect x="597" y="586" width="2.5" height="46" fill="#3c4046"/><rect x="596.2" y="586" width="4.1" height="2" fill="#2c3034"/><rect x="547" y="610" width="2.5" height="22" fill="#3c4046"/><rect x="546.2" y="610" width="4.1" height="2" fill="#2c3034"/><rect x="541" y="612" width="2" height="20" fill="#3c4046"/><rect x="540.2" y="612" width="3.6" height="2" fill="#2c3034"/><rect x="660" y="612" width="2" height="20" fill="#4a4e56"/><rect x="665" y="610" width="2" height="22" fill="#4a4e56"/><rect x="672" y="613" width="2" height="19" fill="#4a4e56"/><rect x="678" y="612" width="1.5" height="20" fill="#4a4e56"/><rect x="697" y="604" width="3" height="28" fill="#4a4e56"/><rect x="703" y="614" width="2.5" height="18" fill="#4a4e56"/><rect x="709" y="620" width="2" height="12" fill="#4a4e56"/><rect x="719" y="600" width="1.6" height="32" fill="#4a4e56"/><rect x="724" y="596" width="1.6" height="36" fill="#4a4e56"/><rect x="730" y="607" width="2.5" height="25" fill="#4a4e56"/><rect x="734" y="611" width="2" height="21" fill="#4a4e56"/>
 <rect x="530" y="614" width="80" height="16" fill="#33373d"/>
 <rect x="655" y="618" width="83" height="12" fill="#5a5e64" opacity="0.8"/>
 <rect x="530" y="628" width="208" height="70" fill="#8e8276"/>
 <rect x="655" y="660" width="83" height="38" fill="#b8a488"/>
 <rect x="660" y="676" width="78" height="8" fill="#d4c4aa"/>
 <rect x="572" y="640" width="20" height="40" fill="#4e4a46"/>
 
 <!-- right group -->
 <ellipse cx="669" cy="632" rx="10" ry="9" fill="#8c9096"/>
 <ellipse cx="705" cy="638" rx="22" ry="12.5" fill="#6a6e72"/>
 <ellipse cx="703" cy="634" rx="17" ry="7" fill="#8e9296"/>
 <ellipse cx="728" cy="640" rx="9" ry="9" fill="#b4b8bc"/>
 <rect x="686" y="648" width="38" height="22" fill="#3c3a38"/>
 <g fill="#d8d8d8"><rect x="690" y="648" width="2" height="24"/><rect x="698" y="650" width="2" height="24"/><rect x="708" y="650" width="2" height="24"/><rect x="716" y="648" width="2" height="22"/><rect x="675" y="640" width="1.6" height="28"/></g>
 <!-- left spheres -->
 <ellipse cx="551" cy="645" rx="22" ry="20.5" fill="url(#sph)"/>
 <ellipse cx="588" cy="635" rx="11" ry="11.6" fill="url(#sph)"/>
 <rect x="532" y="660" width="58" height="38" fill="#5a524a"/><rect x="540" y="664" width="20" height="34" fill="#3a3430"/>
 <!-- big sphere -->
 <ellipse cx="629" cy="676" rx="41" ry="38" fill="url(#sph)"/>
 <g stroke="#c7cbce" stroke-width="1" fill="none">
  <path d="M530 661 L600 684 L640 698"/>
  <path d="M530 670 L580 690 L600 698"/>
  <path d="M588 678 L640 690 L700 698"/>
 </g>
 <g fill="#c5c9cc">
  <rect x="533" y="664" width="1.6" height="34"/><rect x="541" y="666" width="1.6" height="32"/><rect x="549" y="669" width="1.6" height="29"/>
  <rect x="557" y="671" width="1.6" height="27"/><rect x="565" y="674" width="1.6" height="24"/><rect x="573" y="677" width="1.6" height="21"/>
  <rect x="581" y="679" width="1.6" height="19"/><rect x="590" y="682" width="1.6" height="16"/><rect x="606" y="686" width="1.6" height="12"/><rect x="620" y="689" width="1.6" height="9"/>
 </g>
 <path d="M697 698 L736 675 L738 679 L738 690 L712 698 Z" fill="#3e444c"/>
 <!-- heat overlay -->
 <g opacity="0.8">
  <rect x="598" y="603" width="12" height="8" fill="#8a7ad8"/>
  <rect x="598" y="611" width="8" height="12" fill="#8e86dc"/>
  <rect x="606" y="611" width="5" height="12" fill="#b0d0e0"/>
  <rect x="610" y="603" width="50" height="8" fill="#9ad8c0"/>
  <rect x="652" y="603" width="7" height="6" fill="#58b0c8"/>
  <rect x="609" y="609" width="9" height="25" fill="#e8a850"/>
  <rect x="615" y="609" width="33" height="6" fill="#e8a060"/>
  <rect x="615" y="614" width="33" height="18" fill="#e06050"/>
  <rect x="620" y="618" width="12" height="10" fill="#d43040"/>
  <rect x="634" y="620" width="10" height="8" fill="#d84848"/>
  <rect x="648" y="609" width="11" height="26" fill="#70c880"/>
  <rect x="598" y="623" width="11" height="14" fill="#a0d8e8"/>
  <rect x="609" y="632" width="50" height="5" fill="#8ad0b0"/>
  <rect x="598" y="635" width="6" height="4" fill="#6a68c8"/>
 </g>
</g>
<!-- ===== IR spectrum chart ===== -->
<g>
 <line x1="932" y1="340.5" x2="1214.2" y2="340.5" stroke="#e3e3e3" stroke-width="0.7"/><line x1="932" y1="328.8" x2="1214.2" y2="328.8" stroke="#e3e3e3" stroke-width="0.7"/><line x1="932" y1="317.1" x2="1214.2" y2="317.1" stroke="#e3e3e3" stroke-width="0.7"/><line x1="932" y1="305.4" x2="1214.2" y2="305.4" stroke="#e3e3e3" stroke-width="0.7"/><line x1="932" y1="293.7" x2="1214.2" y2="293.7" stroke="#e3e3e3" stroke-width="0.7"/><line x1="932" y1="281.9" x2="1214.2" y2="281.9" stroke="#e3e3e3" stroke-width="0.7"/><line x1="932" y1="270.2" x2="1214.2" y2="270.2" stroke="#e3e3e3" stroke-width="0.7"/><line x1="932" y1="258.5" x2="1214.2" y2="258.5" stroke="#e3e3e3" stroke-width="0.7"/><line x1="932" y1="246.8" x2="1214.2" y2="246.8" stroke="#e3e3e3" stroke-width="0.7"/><line x1="932" y1="235.1" x2="1214.2" y2="235.1" stroke="#e3e3e3" stroke-width="0.7"/><line x1="932" y1="223.4" x2="1214.2" y2="223.4" stroke="#e3e3e3" stroke-width="0.7"/><line x1="932.0" y1="223.4" x2="932.0" y2="340.5" stroke="#e3e3e3" stroke-width="0.7"/><line x1="963.4" y1="223.4" x2="963.4" y2="340.5" stroke="#e3e3e3" stroke-width="0.7"/><line x1="994.7" y1="223.4" x2="994.7" y2="340.5" stroke="#e3e3e3" stroke-width="0.7"/><line x1="1026.0" y1="223.4" x2="1026.0" y2="340.5" stroke="#e3e3e3" stroke-width="0.7"/><line x1="1057.4" y1="223.4" x2="1057.4" y2="340.5" stroke="#e3e3e3" stroke-width="0.7"/><line x1="1088.8" y1="223.4" x2="1088.8" y2="340.5" stroke="#e3e3e3" stroke-width="0.7"/><line x1="1120.1" y1="223.4" x2="1120.1" y2="340.5" stroke="#e3e3e3" stroke-width="0.7"/><line x1="1151.5" y1="223.4" x2="1151.5" y2="340.5" stroke="#e3e3e3" stroke-width="0.7"/><line x1="1182.8" y1="223.4" x2="1182.8" y2="340.5" stroke="#e3e3e3" stroke-width="0.7"/><line x1="1214.2" y1="223.4" x2="1214.2" y2="340.5" stroke="#e3e3e3" stroke-width="0.7"/>
 <line x1="932" y1="340.5" x2="1214.2" y2="340.5" stroke="#bbb" stroke-width="0.8"/>
 <text x="926" y="342.3" font-size="5.2" text-anchor="end" fill="#666">0.000</text><text x="926" y="330.6" font-size="5.2" text-anchor="end" fill="#666">0.100</text><text x="926" y="318.9" font-size="5.2" text-anchor="end" fill="#666">0.200</text><text x="926" y="307.2" font-size="5.2" text-anchor="end" fill="#666">0.300</text><text x="926" y="295.5" font-size="5.2" text-anchor="end" fill="#666">0.400</text><text x="926" y="283.8" font-size="5.2" text-anchor="end" fill="#666">0.500</text><text x="926" y="272.0" font-size="5.2" text-anchor="end" fill="#666">0.600</text><text x="926" y="260.3" font-size="5.2" text-anchor="end" fill="#666">0.700</text><text x="926" y="248.6" font-size="5.2" text-anchor="end" fill="#666">0.800</text><text x="926" y="236.9" font-size="5.2" text-anchor="end" fill="#666">0.900</text><text x="926" y="225.2" font-size="5.2" text-anchor="end" fill="#666">1.000</text><text x="932.0" y="350" font-size="5.2" text-anchor="middle" fill="#666">3.000</text><text x="963.4" y="350" font-size="5.2" text-anchor="middle" fill="#666">4.000</text><text x="994.7" y="350" font-size="5.2" text-anchor="middle" fill="#666">5.000</text><text x="1026.0" y="350" font-size="5.2" text-anchor="middle" fill="#666">6.000</text><text x="1057.4" y="350" font-size="5.2" text-anchor="middle" fill="#666">7.000</text><text x="1088.8" y="350" font-size="5.2" text-anchor="middle" fill="#666">8.000</text><text x="1120.1" y="350" font-size="5.2" text-anchor="middle" fill="#666">9.000</text><text x="1151.5" y="350" font-size="5.2" text-anchor="middle" fill="#666">10.000</text><text x="1182.8" y="350" font-size="5.2" text-anchor="middle" fill="#666">11.000</text><text x="1214.2" y="350" font-size="5.2" text-anchor="middle" fill="#666">12.000</text>
 <path d="M1044.9,340.4 L1045.5,340.4 L1046.1,340.3 L1046.7,340.3 L1047.3,340.2 L1047.9,340.1 L1048.5,340.0 L1049.2,339.8 L1049.8,339.6 L1050.4,339.4 L1051.0,339.0 L1051.6,338.6 L1052.2,338.1 L1052.8,337.4 L1053.5,336.5 L1054.1,335.3 L1054.7,333.9 L1055.3,332.0 L1055.9,329.7 L1056.5,326.9 L1057.1,323.5 L1057.8,319.4 L1058.4,314.5 L1059.0,309.0 L1059.6,302.8 L1060.2,296.0 L1060.8,288.9 L1061.4,281.6 L1062.1,274.5 L1062.7,267.7 L1063.3,261.4 L1063.9,255.8 L1064.5,250.9 L1065.1,246.7 L1065.7,243.2 L1066.3,240.3 L1067.0,238.0 L1067.6,236.1 L1068.2,234.6 L1068.8,233.4 L1069.4,232.5 L1070.0,231.8 L1070.6,231.2 L1071.3,230.8 L1071.9,230.4 L1072.5,230.2 L1073.1,229.9 L1073.7,229.8 L1074.3,229.7 L1074.9,229.6 L1075.6,229.5 L1076.2,229.5 L1076.8,229.4 L1077.4,229.4 L1078.0,229.4 L1078.6,229.3 L1079.2,229.3 L1079.9,229.3 L1080.5,229.3 L1081.1,229.4 L1081.7,229.4 L1082.3,229.4 L1082.9,229.4 L1083.5,229.5 L1084.2,229.5 L1084.8,229.6 L1085.4,229.7 L1086.0,229.9 L1086.6,230.1 L1087.2,230.3 L1087.8,230.6 L1088.4,231.0 L1089.1,231.5 L1089.7,232.2 L1090.3,233.0 L1090.9,234.1 L1091.5,235.5 L1092.1,237.2 L1092.7,239.4 L1093.4,242.1 L1094.0,245.3 L1094.6,249.3 L1095.2,253.9 L1095.8,259.3 L1096.4,265.3 L1097.0,272.0 L1097.7,279.0 L1098.3,286.3 L1098.9,293.5 L1099.5,300.4 L1100.1,306.8 L1100.7,312.6 L1101.3,317.7 L1102.0,322.1 L1102.6,325.7 L1103.2,328.8 L1103.8,331.2 L1104.4,333.2 L1105.0,334.8 L1105.6,336.1 L1106.3,337.1 L1106.9,337.8 L1107.5,338.4 L1108.1,338.9 L1108.7,339.3 L1109.3,339.5 L1109.9,339.8 L1110.6,339.9 L1111.2,340.1 L1111.8,340.2 L1112.4,340.2 L1113.0,340.3 L1113.6,340.3 L1114.2,340.4 L1114.8,340.4 L1115.5,340.4 L1116.1,340.4 L1116.7,340.5 L1117.3,340.5 L1117.9,340.5 L1118.5,340.5" fill="none" stroke="#555" stroke-width="1.2"/>
 <path d="M935.1,340.5 L936.1,293.7 L937.3,241.0 L938.3,228.1 L945.2,228.1 L946.4,246.8 L947.7,293.7 L949.2,340.5 Z" fill="#efe06a" stroke="#b8a020" stroke-width="0.8"/><path d="M938.3,340.5 L938.9,281.9 L939.8,235.1 L941.4,231.6 L942.7,270.2 L943.6,305.4 L944.5,340.5 Z" fill="#f0a040" opacity="0.7"/>
 <path d="M950.8,241.0 L957.1,238.6 L969.6,239.8 L972.8,242.1 L975.9,239.8 L994.7,239.8 L996.3,246.8 L997.8,259.7 L999.4,246.8 L1001.0,239.8 L1008.8,241.0 L1010.4,258.5 L1011.9,266.7 L1013.5,246.8 L1015.1,239.8 L1041.7,239.8 L1044.9,246.8 L1048.0,270.2 L1050.5,305.4 L1052.7,281.9 L1055.8,249.2 L1059.0,244.5 L1066.8,244.5 L1073.1,242.1 L1088.8,241.0 L1104.4,239.8 L1120.1,238.6 L1129.5,239.8 L1132.6,246.8 L1135.8,263.2 L1137.3,256.2 L1138.9,276.1 L1140.5,281.9 L1142.0,267.9 L1143.6,260.9 L1145.2,253.8 L1148.3,239.8 L1151.5,238.6 L1182.8,239.8 L1214.2,239.8" fill="none" stroke="#e8a838" stroke-width="1.3"/>
 <path d="M932.0,238.6 L933.6,239.8 L935.1,244.5 L936.7,249.2 L938.3,246.8 L940.5,281.9 L942.3,328.8 L943.9,340.5 L947.7,340.5 L949.2,305.4 L950.8,256.2 L952.4,249.2 L953.9,246.8 L955.5,242.1 L958.6,239.8 L963.4,238.6 L969.6,238.6 L971.2,244.5 L972.8,236.3 L982.2,238.6 L994.7,237.5 L1026.0,236.3 L1038.6,235.1 L1041.7,239.8 L1044.9,258.5 L1048.0,287.8 L1049.6,305.4 L1051.1,313.6 L1052.7,293.7 L1055.8,270.2 L1059.0,255.0 L1061.2,258.5 L1063.7,281.9 L1065.2,276.1 L1066.8,246.8 L1069.9,239.8 L1076.2,237.5 L1082.5,235.1 L1088.8,237.5 L1095.0,238.6 L1104.4,242.1 L1107.6,246.8 L1110.7,242.1 L1120.1,238.6 L1126.4,239.8 L1129.5,244.5 L1135.8,242.1 L1142.0,238.6 L1151.5,238.6 L1167.1,239.8 L1170.3,246.8 L1173.4,243.3 L1176.5,249.2 L1179.7,242.1 L1189.1,243.3 L1198.5,241.0 L1214.2,239.8" fill="none" stroke="#4a72c0" stroke-width="1.3"/>
 <path d="M932.0,224.6 L933.6,224.6 L935.1,226.9 L936.1,256.2 L937.0,231.6 L938.3,249.2 L939.5,229.3 L940.8,264.4 L942.0,235.1 L943.3,281.9 L944.5,293.7 L945.5,246.8 L946.7,270.2 L947.7,235.1 L949.2,241.0 L950.8,228.1 L957.1,225.7 L969.6,225.7 L972.8,228.1 L975.9,225.7 L1026.0,225.7 L1040.2,226.9 L1041.7,230.4 L1043.3,226.9 L1060.5,226.9 L1063.7,229.3 L1066.2,258.5 L1067.4,237.5 L1069.3,287.8 L1071.5,246.8 L1073.1,270.2 L1074.6,293.7 L1076.2,229.3 L1077.8,281.9 L1079.3,235.1 L1080.9,276.1 L1083.1,241.0 L1085.6,264.4 L1087.2,270.2 L1088.8,252.7 L1090.3,256.2 L1091.9,241.0 L1093.5,249.2 L1095.0,232.8 L1096.6,224.6 L1120.1,224.0 L1151.5,224.6 L1182.8,225.2 L1214.2,225.7" fill="none" stroke="#d8303a" stroke-width="1.5"/>
 <path d="M1044.9,340.4 L1045.5,340.4 L1046.1,340.3 L1046.7,340.3 L1047.3,340.2 L1047.9,340.1 L1048.5,340.0 L1049.2,339.8 L1049.8,339.6 L1050.4,339.4 L1051.0,339.0 L1051.6,338.6 L1052.2,338.1 L1052.8,337.4 L1053.5,336.5 L1054.1,335.3 L1054.7,333.9 L1055.3,332.0 L1055.9,329.7 L1056.5,326.9 L1057.1,323.5 L1057.8,319.4 L1058.4,314.5 L1059.0,309.0 L1059.6,302.8 L1060.2,296.0 L1060.8,288.9 L1061.4,281.6 L1062.1,274.5 L1062.7,267.7 L1063.3,261.4 L1063.9,255.8 L1064.5,250.9 L1065.1,246.7 L1065.7,243.2 L1066.3,240.3 L1067.0,238.0 L1067.6,236.1 L1068.2,234.6 L1068.8,233.4 L1069.4,232.5 L1070.0,231.8 L1070.6,231.2 L1071.3,230.8 L1071.9,230.4 L1072.5,230.2 L1073.1,229.9 L1073.7,229.8 L1074.3,229.7 L1074.9,229.6 L1075.6,229.5 L1076.2,229.5 L1076.8,229.4 L1077.4,229.4 L1078.0,229.4 L1078.6,229.3 L1079.2,229.3 L1079.9,229.3 L1080.5,229.3 L1081.1,229.4 L1081.7,229.4 L1082.3,229.4 L1082.9,229.4 L1083.5,229.5 L1084.2,229.5 L1084.8,229.6 L1085.4,229.7 L1086.0,229.9 L1086.6,230.1 L1087.2,230.3 L1087.8,230.6 L1088.4,231.0 L1089.1,231.5 L1089.7,232.2 L1090.3,233.0 L1090.9,234.1 L1091.5,235.5 L1092.1,237.2 L1092.7,239.4 L1093.4,242.1 L1094.0,245.3 L1094.6,249.3 L1095.2,253.9 L1095.8,259.3 L1096.4,265.3 L1097.0,272.0 L1097.7,279.0 L1098.3,286.3 L1098.9,293.5 L1099.5,300.4 L1100.1,306.8 L1100.7,312.6 L1101.3,317.7 L1102.0,322.1 L1102.6,325.7 L1103.2,328.8 L1103.8,331.2 L1104.4,333.2 L1105.0,334.8 L1105.6,336.1 L1106.3,337.1 L1106.9,337.8 L1107.5,338.4 L1108.1,338.9 L1108.7,339.3 L1109.3,339.5 L1109.9,339.8 L1110.6,339.9 L1111.2,340.1 L1111.8,340.2 L1112.4,340.2 L1113.0,340.3 L1113.6,340.3 L1114.2,340.4 L1114.8,340.4 L1115.5,340.4 L1116.1,340.4 L1116.7,340.5 L1117.3,340.5 L1117.9,340.5 L1118.5,340.5 L1118.5,340.5 L1044.9,340.5 Z" fill="#c4d2ec" opacity="0.6"/>
 <line x1="1077.8" y1="229.3" x2="1077.8" y2="340.5" stroke="#e0303a" stroke-width="1.2"/>
 <circle cx="1023" cy="210" r="1.4" fill="#d8303a"/><text x="1027" y="212.2" font-size="6.5" fill="#d8303a">甲烷</text>
 <circle cx="1056" cy="210" r="1.4" fill="#4a72c0"/><text x="1060" y="212.2" font-size="6.5" fill="#4a72c0">丙烷</text>
 <circle cx="1090.5" cy="210" r="1.4" fill="#e8a838"/><text x="1094.5" y="212.2" font-size="6.5" fill="#e8a838">苯</text>
 <text x="1071" y="364.5" font-size="6.5" text-anchor="middle" fill="#666">波长</text>
 <text x="0" y="0" font-size="6" fill="#666" transform="translate(904,281) rotate(-90)" text-anchor="middle">传感</text>
</g>

<!-- ===== IR camera + cloud ===== -->
<g>
 <line x1="996.5" y1="467" x2="1183.5" y2="406.5" stroke="#aaa" stroke-width="1"/>
 <line x1="996.5" y1="484" x2="1187" y2="519" stroke="#aaa" stroke-width="1"/>
 <!-- camera box -->
 <path d="M912 455 L983 452 L983 494 L912 497 Z" fill="url(#camfront)" stroke="#c8c8c8" stroke-width="0.8"/>
 <path d="M983 452 L995 456 L995.5 493 L983 494 Z" fill="#c9c9cb"/>
 <path d="M912 497 L983 494 L995.5 493 L992 500 L918 501.5 Z" fill="#b5b5b7"/>
 <ellipse cx="987" cy="473" rx="2.5" ry="4.5" fill="#555"/>
 <ellipse cx="993" cy="478" rx="1.6" ry="3.4" fill="#444"/>
 <circle cx="933" cy="473" r="0.8" fill="#999"/><circle cx="963" cy="469" r="0.8" fill="#999"/><circle cx="968" cy="475" r="0.8" fill="#999"/><circle cx="928" cy="479" r="0.8" fill="#999"/>
 <!-- cloud -->
 <path d="M1085 418 Q1092 410 1100 415 Q1110 408 1118 416 Q1128 410 1134 420 Q1143 422 1141 433 Q1148 440 1144 450 Q1149 460 1143 470 Q1147 482 1138 490 Q1138 502 1126 503 Q1118 512 1106 505 Q1096 512 1088 503 Q1076 502 1077 490 Q1068 483 1073 472 Q1067 462 1073 452 Q1067 440 1075 432 Q1074 420 1085 418 Z" fill="#f6c98a" stroke="#eaa63a" stroke-width="1.6"/>
 <text x="1105.5" y="466" font-size="13" text-anchor="middle" fill="#fff">气云</text>
 <!-- blue arrows -->
 <g stroke="#2a4fa0" stroke-width="1.2" marker-start="url(#ahb)">
  <line x1="1022" y1="465.5" x2="1052.5" y2="457.5"/>
  <line x1="1021" y1="473.5" x2="1052.5" y2="473"/>
  <line x1="1022" y1="481" x2="1052" y2="486.5"/>
  <line x1="1145" y1="428" x2="1175.5" y2="419"/>
  <line x1="1149" y1="446.5" x2="1180" y2="442"/>
  <line x1="1149" y1="466" x2="1181" y2="466"/>
  <line x1="1148" y1="484" x2="1180" y2="487"/>
  <line x1="1145" y1="501" x2="1175" y2="506"/>
 </g>
 <text x="1190" y="458.5" font-size="9.5" fill="#3a5aa0">背景</text>
 <text x="1190" y="472" font-size="9.5" fill="#3a5aa0">辐射</text>
</g>
<!-- ===== Thermal image 1 ===== -->
<rect x="878.5" y="575" width="161.5" height="104.5" fill="#fff" stroke="#aaa" stroke-width="1"/>
<g clip-path="url(#th1)">
 <rect x="879" y="575.5" width="123" height="104" fill="#f6f1f3"/>
 <path d="M915 575.5 L1002 597 L1002 595 L922 575.5 Z" fill="#5a4a4a"/>
 <g fill="#a8a6c8" opacity="0.85">
  <path d="M879 594 L1002 611 L1002 615 L879 599.5 Z"/>
 </g>
 <g stroke="#f6f1f3" stroke-width="1.2" opacity="0.9">
  <line x1="884" y1="592" x2="884" y2="602"/><line x1="890" y1="592" x2="890" y2="603"/><line x1="896" y1="593" x2="896" y2="604"/><line x1="902" y1="594" x2="902" y2="605"/><line x1="908" y1="595" x2="908" y2="606"/><line x1="914" y1="596" x2="914" y2="607"/><line x1="920" y1="597" x2="920" y2="608"/><line x1="926" y1="598" x2="926" y2="609"/><line x1="932" y1="598" x2="932" y2="610"/><line x1="938" y1="599" x2="938" y2="611"/><line x1="944" y1="600" x2="944" y2="612"/><line x1="950" y1="601" x2="950" y2="612"/><line x1="956" y1="602" x2="956" y2="613"/><line x1="962" y1="602" x2="962" y2="614"/><line x1="968" y1="603" x2="968" y2="615"/><line x1="974" y1="604" x2="974" y2="616"/><line x1="980" y1="605" x2="980" y2="616"/><line x1="986" y1="606" x2="986" y2="617"/><line x1="992" y1="607" x2="992" y2="618"/><line x1="998" y1="608" x2="998" y2="618"/>
 </g>
 <g stroke="#d8d0d8" stroke-width="0.8"><line x1="903" y1="575" x2="903" y2="625"/><line x1="928" y1="575" x2="928" y2="625"/><line x1="948" y1="580" x2="948" y2="625"/><line x1="966" y1="585" x2="966" y2="625"/><line x1="984" y1="590" x2="984" y2="630"/></g>
 <rect x="879" y="619" width="123" height="8" fill="#7a7068" opacity="0.35"/>
 <path d="M900 628 L1002 634 L1002 658 L925 662 L900 660 Z" fill="url(#pipesR)"/>
 <path d="M905 640 L955 638 L962 650 L958 662 L905 662 Z" fill="#7a4a42"/>
 <path d="M955 638 L960 650 L955 660" fill="none" stroke="#e8e0e0" stroke-width="1"/>
 <circle cx="975" cy="650" r="5" fill="#5a302a" stroke="#c07060" stroke-width="1.2"/>
 <circle cx="988" cy="650" r="5" fill="#5a302a" stroke="#c07060" stroke-width="1.2"/>
 <rect x="969" y="641" width="3" height="22" fill="#fff"/>
 <rect x="879" y="633" width="17" height="32" fill="#f0963a"/>
 <rect x="889" y="650" width="6" height="15" fill="#e88a30"/>
 <rect x="879" y="660" width="10" height="6" fill="#4a2a25"/>
 <g fill="#2850c8">
  <rect x="887" y="628" width="9" height="8" rx="2"/><rect x="898" y="634" width="8" height="6" rx="2"/>
  <rect x="903" y="638" width="7" height="7" rx="2"/><rect x="915" y="631" width="10" height="7" rx="2"/>
  <rect x="921" y="637" width="8" height="6" rx="2"/><rect x="884" y="634" width="6" height="5" rx="2"/>
 </g>
</g>
<rect x="1003.4" y="576.4" width="2.6" height="101.5" fill="url(#jet)"/>
<g font-size="4.8" fill="#444">
 <text x="1008" y="579.5">487</text><text x="1008" y="592">426</text><text x="1008" y="605">365</text><text x="1008" y="617.5">304</text><text x="1008" y="630">243</text><text x="1008" y="642">182</text><text x="1008" y="655">121</text><text x="1008" y="667">60</text><text x="1008" y="679">0</text>
</g>
<rect x="1032" y="625" width="1.6" height="6" fill="#888"/>
<!-- ===== Thermal image 2 ===== -->
<rect x="1088.4" y="575" width="146.4" height="105" fill="#fff" stroke="#aaa" stroke-width="1"/>
<g clip-path="url(#th2)">
 <rect x="1089" y="575.5" width="112.5" height="104" fill="#707070"/>
 <rect x="1089" y="575.5" width="112.5" height="30" fill="#6a6a6a"/>
 <path d="M1172 575.5 L1201.5 575.5 L1201.5 583 Q1188 577 1172 575.5 Z" fill="#0a0a0a"/>
 <g stroke="#7e7e7e" stroke-width="1"><line x1="1118" y1="576" x2="1118" y2="635"/><line x1="1148" y1="576" x2="1148" y2="636"/><line x1="1170" y1="578" x2="1170" y2="638"/><line x1="1089" y1="606" x2="1201" y2="608"/></g>
 <path d="M1089 624 L1108 626 L1108 680 L1089 680 Z" fill="#8e8e8e"/>
 <path d="M1091 655 L1105 655 L1105 680 L1091 680 Z" fill="#6a6a6a"/>
 <path d="M1108 636 Q1150 634 1201.5 642 L1201.5 680 L1108 680 Z" fill="#cfcfcf"/>
 <path d="M1108 652 L1183 651 L1183 680 L1108 680 Z" fill="#ececec"/>
 <path d="M1183 651 L1201.5 648 L1201.5 680 L1183 680 Z" fill="#bdbdbd"/>
 <path d="M1145 654 Q1160 662 1180 670" stroke="#9a9a9a" stroke-width="0.6" fill="none"/>
 <g fill="#2a52cc">
  <rect x="1092.7" y="634" width="5.1" height="10.5" rx="1.5"/><rect x="1099" y="632" width="5" height="5.4" rx="1.5"/>
  <rect x="1106" y="639.3" width="6.6" height="6.4" rx="1.5"/><rect x="1110" y="647" width="4.5" height="5.8" rx="1.5"/>
  <rect x="1115" y="647" width="4.7" height="5" rx="1.5"/>
  <path d="M1123 640 Q1126 636 1132 637 Q1138 639 1140 646 Q1139 651 1134 650 Q1131 644 1126 644 Q1123 644 1123 640 Z"/>
 </g>
</g>
<rect x="1202.7" y="576.4" width="4.9" height="102.5" fill="url(#jet)"/>
<g font-size="4.8" fill="#444">
 <text x="1211.5" y="579.5">503</text><text x="1211.5" y="592">440</text><text x="1211.5" y="604.5">377</text><text x="1211.5" y="617">314</text><text x="1211.5" y="629.5">251</text><text x="1211.5" y="642">188</text><text x="1211.5" y="654.5">123</text><text x="1211.5" y="667">62</text><text x="1211.5" y="679">0</text>
</g>
<rect x="1228" y="620" width="1.6" height="11" fill="#777"/>

<!-- ===== Monkey ===== -->
<g>
 <path d="M424 76 L437 76.5 L441 80 L443 86 L440 91 L434 93 L431 96 L436 101 L441 107 L446 114 L448 119 L445 121.5 L442 118 L438 113 L432 107 L429 104 L428 110 L430 117 L432 121 L432 124.5 L421 124.5 L422 121 L424 118 L423 114 L419 112.5 L414 114 L411 117 L411 120 L410 125 L401 124 L401 119 L403 114 L402 106 L404 97 L408 89 L414 84 L420 80 Z" fill="#382c1e"/>
 <path d="M433 80.5 Q439 79 442 82.5 Q444.5 87 441.5 90.5 Q437.5 93 434.5 90 Q432 85 433 80.5 Z" fill="#e47a2a"/>
 <ellipse cx="429.5" cy="85" rx="2.4" ry="2.3" fill="#d86c28"/>
 <circle cx="436.5" cy="83.5" r="0.9" fill="#8a1a1a"/>
 <path d="M401 119 Q402 117 406 117.5 L411 120 L410 125 L401 124 Z" fill="#e47a2a"/>
 <path d="M421.5 121 L430 120.5 L432 122 L432 124.5 L421 124.5 Z" fill="#e47a2a"/>
 <path d="M443 112.5 L446.5 114 L448 119 L445 121.5 L442.5 117 Z" fill="#e47a2a"/>
</g>
<!-- ===== Walking man ===== -->
<g>
 <path d="M831 39 Q832 33.5 839 34 Q845 35 845.5 40 L844.5 44 Q842 42 839 44 L837 49 L833 49 Q830 45 831 39 Z" fill="#151515"/>
 <path d="M838 43 Q843 40 846 43 L846.5 47 Q848 49 846 50.5 L845 53 Q842 55 839 53.5 L837 50 Z" fill="#f2c8a8"/>
 <path d="M838.5 55 L836 53 L831 56 Q827 61 826.5 72 L826.5 81 L846.5 81 Q846.5 71 845.5 62 L843.5 56 Z" fill="#2aa3b3"/>
 <path d="M840.5 55.5 L843 56.5 L843.5 71 L841.5 73 Z" fill="#3a2a8a"/>
 <path d="M845 60 L851 75 L849 79 L843 68 Z" fill="#2aa3b3"/>
 <ellipse cx="849.5" cy="80" rx="2.3" ry="2.6" fill="#f2c8a8"/>
 <path d="M826.5 80 L846.5 80 L846.5 85 Q849 97 853 114 L856.5 116 L851 118 L846 99 L839 89 L836 103 L833 115 L828 115 L830 103 Z" fill="#141414"/>
 <path d="M833.5 116 L828 116 Q825 118 828.5 121 L842 121 Q841 117.5 836 116.5 Z" fill="#0e0e0e"/>
 <path d="M849 116 Q857 116.5 860.5 118.5 L860 121 L847 121 Z" fill="#0e0e0e"/>
 <path d="M828 77 L830 86 L827 87 L825 80 Z" fill="#2aa3b3"/>
 <rect x="820" y="88" width="14.5" height="15" rx="1.5" fill="#2e2e2e"/>
 <rect x="823" y="86" width="7" height="2.5" fill="#222"/>
 <ellipse cx="828.5" cy="86" rx="2.1" ry="2.2" fill="#f2c8a8"/>
</g>
</svg>

<!-- titles -->
<div class="title" style="left:115px;top:132px;">传统气体传感器</div>
<div class="title" style="left:527px;top:133px;">激光光谱气体检测</div>
<div class="title" style="left:931px;top:133px;letter-spacing:0.7px;">红外气云成像/高光谱</div>

<!-- arrows -->
<svg class="abs" style="left:370px;top:120px" width="105" height="50" viewBox="0 0 105 50">
 <rect x="4.5" y="15" width="1.3" height="19" fill="#2a68c0"/>
 <rect x="7.3" y="15" width="2.2" height="19" fill="#2a68c0"/>
 <polygon points="12.4,15.1 80.7,15.1 80.7,5.8 98.9,24.4 80.7,43.9 80.7,34.1 12.4,34.1" fill="#3473c2" stroke="#2564bb" stroke-width="0.8"/>
</svg>
<svg class="abs" style="left:793.5px;top:120px" width="105" height="50" viewBox="0 0 105 50">
 <rect x="4.5" y="15" width="1.3" height="19" fill="#2a68c0"/>
 <rect x="7.3" y="15" width="2.2" height="19" fill="#2a68c0"/>
 <polygon points="12.4,15.1 80.7,15.1 80.7,5.8 98.9,24.4 80.7,43.9 80.7,34.1 12.4,34.1" fill="#3473c2" stroke="#2564bb" stroke-width="0.8"/>
</svg>

<!-- dashed lines -->
<div class="dash" style="left:421px;top:185px;height:652px;"></div>
<div class="dash" style="left:845px;top:178px;height:651px;"></div>

<!-- bottom ellipses -->
<div class="ell g" style="left:24.5px;top:729px;width:115px;height:86px;padding-right:3px;">范围小<br>速度慢</div>
<div class="ell g" style="left:155.5px;top:728px;width:112px;height:86px;padding-right:4px;">灵敏度<br>低</div>
<div class="ell g" style="left:280px;top:729px;width:116px;height:86px;">可靠性<br>差</div>

<div class="ell b" style="left:447px;top:729px;width:116px;height:85px;">探测距<br>离远</div>
<div class="ell b" style="left:575.5px;top:729px;width:117px;height:85px;padding-bottom:0;">灵敏度<br>高响应<br>速度快</div>
<div class="ell b" style="left:704px;top:729px;width:117px;height:85px;">扫描式<br>成像</div>

<div class="ell b" style="left:872px;top:728px;width:117px;height:86.5px;">探测距<br>离远</div>
<div class="ell b" style="left:1000.5px;top:728px;width:116.5px;height:86.5px;">非扫描<br>成像</div>
<div class="ell b" style="left:1129px;top:728px;width:116.5px;height:86.5px;">探测距<br>离远</div>


<!-- left column text -->
<div class="abs" style="left:159px;top:220px;font-size:19px;line-height:21px;color:#111;white-space:nowrap;">气体吸入</div>
<div class="abs" style="left:157px;top:390px;font-size:19px;line-height:21px;color:#111;white-space:nowrap;letter-spacing:0.7px;">半导体/催化燃烧<br>热传导/非色散红外</div>
</body></html>
